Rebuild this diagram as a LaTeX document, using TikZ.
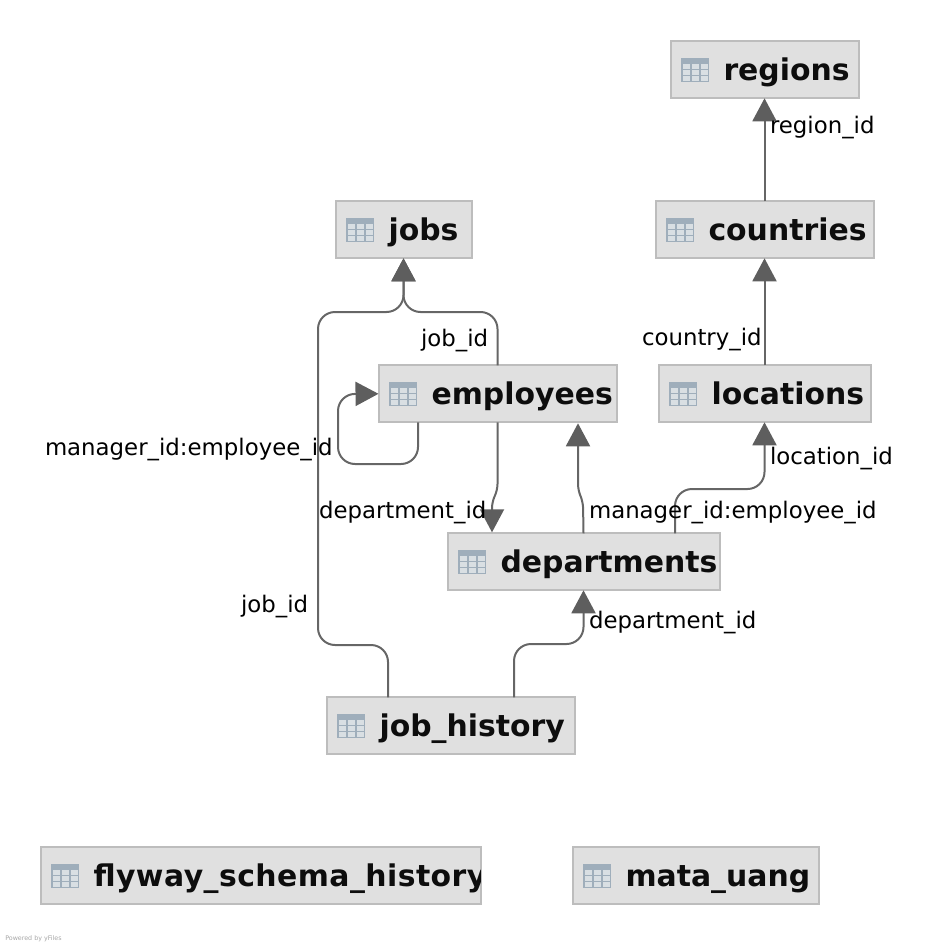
\documentclass[tikz,border=0pt]{standalone}
\usepackage{fontspec}
\setmainfont{DejaVu Sans}
\usepackage{xcolor}
\usetikzlibrary{positioning, calc, arrows.meta}

\definecolor{fondotabla}{HTML}{E0E0E0}
\definecolor{bordetabla}{HTML}{BDBDBD}
\definecolor{linea}{HTML}{666666}
\definecolor{punta}{HTML}{5E5E5E}
\definecolor{icono}{HTML}{9FAEBB}
\definecolor{celda}{HTML}{D9DFE3}

\tikzset{
  tabla/.style={draw=bordetabla, fill=fondotabla, line width=0.04cm, minimum height=1.14cm, inner sep=0pt, outer sep=0pt},
  titulo/.style={font=\bfseries\fontsize{17pt}{20pt}\selectfont, text=black!95, inner sep=0pt, outer sep=0pt},
  relacion/.style={draw=linea, line width=0.04cm, rounded corners=0.34cm, -{Triangle[length=0.46cm, width=0.48cm, color=punta]}},
  etiqueta/.style={font=\fontsize{13pt}{15pt}\selectfont, text=black, inner sep=0pt, outer sep=0pt}
}

% Caja de una tabla: nombre, texto, centro x, centro y, ancho
\newcommand{\tabla}[5]{
  \node[tabla, minimum width=#5*0.02cm] (#1) at (#3,#4) {};
  \fill[icono] ($(#1.west)+(10.5,-12)$) rectangle +(28,24);
  \foreach \col in {0,1,2} {
    \foreach \fila in {0,1,2} {
      \fill[celda] ($(#1.west)+(12+9*\col,-5.5+6*\fila)$) rectangle +(7.5,4.5);
    }
  }
  \begin{scope}
    \clip (#1.south west) rectangle (#1.north east);
    \node[titulo, anchor=base west] (#1-titulo) at ($(#1.west)+(53,11)$) {#2};
  \end{scope}
}

\begin{document}
\begin{tikzpicture}[x=0.02cm, y=-0.02cm]

\useasboundingbox (0,0) rectangle (936,946);

% Tablas
\tabla{regions}{regions}{764.5}{69.8}{188}
\tabla{jobs}{jobs}{403.5}{229.8}{136}
\tabla{countries}{countries}{764.5}{229.8}{218}
\tabla{employees}{employees}{497.5}{393.8}{238}
\tabla{locations}{locations}{764.5}{393.8}{212}
\tabla{departments}{departments}{583.5}{561.8}{272}
\tabla{jobhistory}{job\_history}{450.5}{725.8}{248}
\tabla{flyway}{\addfontfeature{LetterSpace=1.5}flyway\_schema\_history}{260.5}{875.8}{440}
\tabla{matauang}{mata\_uang}{695.5}{875.8}{246}

% Relaciones
\draw[relacion] (countries.north) -- (regions.south);
\draw[relacion] (locations.north) -- (countries.south);
\draw[relacion] (employees.north) -- (497.5,312) -- (403.5,312) -- (jobs.south);
\draw[relacion] ($(jobhistory.north)+(-62.5,0)$) -- (388,645) -- (318,645) -- (318,312) -- (403.5,312) -- (jobs.south);
\draw[relacion] ($(employees.south)+(-79.5,0)$) -- (418,464) -- (338,464) -- (338,394) -- (employees.west);
\draw[relacion, rounded corners=0.12cm] (employees.south) -- (497.5,490) -- (492,502) -- ($(departments.north)+(-91.5,-1)$);
\draw[relacion, rounded corners=0.12cm] (departments.north) -- (583,502) -- (578,490) -- ($(employees.south)+(80.5,1)$);
\draw[relacion] ($(departments.north)+(91.5,0)$) -- (675,489) -- (764.5,489) -- (locations.south);
\draw[relacion] ($(jobhistory.north)+(63.5,0)$) -- (514,644) -- (583.5,644) -- (departments.south);

% Textos de las relaciones
\node[etiqueta, anchor=base west] (lblregion) at (770,133) {region\_id};
\node[etiqueta, anchor=base west] (lblcountry) at (642,345) {country\_id};
\node[etiqueta, anchor=base west] (lbljob) at (421,346) {job\_id};
\node[etiqueta, anchor=base west] (lblmanager) at (45,455) {manager\_id:employee\_id};
\node[etiqueta, anchor=base west] (lbllocation) at (770,464) {location\_id};
\node[etiqueta, anchor=base west] (lbldept) at (319,518) {department\_id};
\node[etiqueta, anchor=base west] (lblmanagerb) at (589,518) {manager\_id:employee\_id};
\node[etiqueta, anchor=base west] (lbljobb) at (241,612) {job\_id};
\node[etiqueta, anchor=base west] (lbldeptb) at (589,628) {department\_id};

\node[font=\fontsize{3.6pt}{5pt}\selectfont, text=black!35, anchor=base west, inner sep=0pt] (yfiles) at (5,940) {Powered by yFiles};

\end{tikzpicture}
\end{document}
